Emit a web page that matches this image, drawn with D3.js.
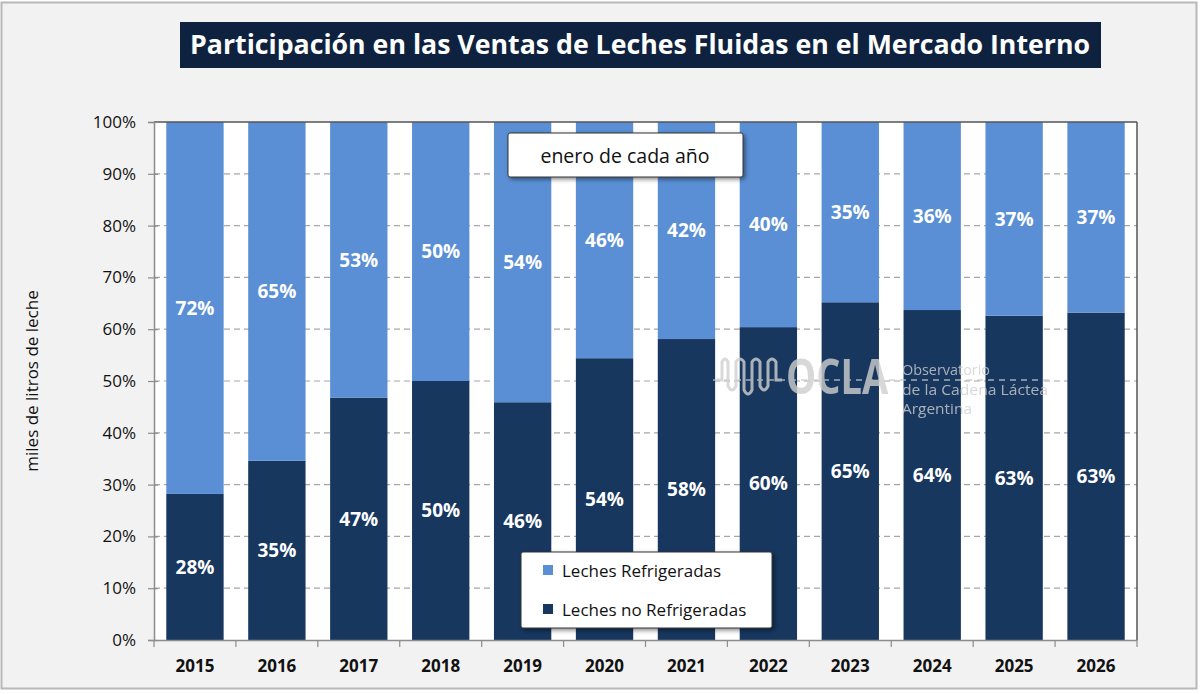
<!DOCTYPE html>
<html><head><meta charset="utf-8">
<script src="https://cdn.jsdelivr.net/npm/d3@7"></script>
<style>
html,body{margin:0;padding:0;background:#fff;}
svg{display:block;}
text{font-family:"Open Sans","Liberation Sans",Arial,sans-serif;}
</style></head>
<body>
<svg id="chart" width="1200" height="694"></svg>
<script>
const years = ["2015","2016","2017","2018","2019","2020","2021","2022","2023","2024","2025","2026"];
const noRefrigeradas = [28.2, 34.6, 46.8, 50.0, 45.9, 54.4, 58.1, 60.4, 65.2, 63.7, 62.6, 63.2];
const refrigeradas = [71.8, 65.4, 53.2, 50.0, 54.1, 45.6, 41.9, 39.6, 34.8, 36.3, 37.4, 36.8];
const yTicks = [0, 10, 20, 30, 40, 50, 60, 70, 80, 90, 100];
const seriesNames = ["Leches Refrigeradas", "Leches no Refrigeradas"];
const title = "Participación en las Ventas de Leches Fluidas en el Mercado Interno";
const yLabel = "miles de litros de leche";
const note = "enero de cada año";
const watermarkLines = ["Observatorio","de la Cadena Láctea","Argentina"];

const colLight = "#5a8fd5", colDark = "#17375f";
const svg = d3.select("#chart");

// Outer frame
svg.append("rect").attr("x",1.5).attr("y",2.5).attr("width",1195).attr("height",686)
  .attr("fill","#f2f2f2").attr("stroke","#b8b8b8").attr("stroke-width",2);

// Title
svg.append("rect").attr("x",180).attr("y",22).attr("width",921).attr("height",46).attr("fill","#0e2240");
svg.append("text").attr("x",640).attr("y",54).attr("text-anchor","middle")
  .attr("fill","#fff").attr("font-weight","bold").attr("font-size",26)
  .attr("textLength",900).attr("lengthAdjust","spacingAndGlyphs")
  .style("font-family","'Liberation Sans Narrow','Open Sans',sans-serif")
  .text(title);

const L = 154, R = 1137, T = 122, B = 640;
const x = d3.scaleBand().domain(years).range([L, R]).paddingInner(0.3).paddingOuter(0.15);
const y = d3.scaleLinear().domain([0, 100]).range([B, T]);

// Plot background
svg.append("rect").attr("x",L).attr("y",T).attr("width",R-L).attr("height",B-T).attr("fill","#fff");

// Gridlines
svg.append("g").selectAll("line").data(yTicks.filter(d=>d>0 && d<100)).join("line")
  .attr("x1",L).attr("x2",R).attr("y1",d=>y(d)).attr("y2",d=>y(d))
  .attr("stroke","#a6a6a6").attr("stroke-width",1.2).attr("stroke-dasharray","6,4");

// Bars
const gb = svg.append("g");
years.forEach((yr,i)=>{
  gb.append("rect").attr("x",x(yr)).attr("width",x.bandwidth())
    .attr("y",y(noRefrigeradas[i])).attr("height",y(0)-y(noRefrigeradas[i])).attr("fill",colDark);
  gb.append("rect").attr("x",x(yr)).attr("width",x.bandwidth())
    .attr("y",y(noRefrigeradas[i]+refrigeradas[i])).attr("height",y(noRefrigeradas[i])-y(noRefrigeradas[i]+refrigeradas[i])).attr("fill",colLight);
  gb.append("text").attr("x",x(yr)+x.bandwidth()/2).attr("y",y(noRefrigeradas[i]/2)).attr("dy","0.36em")
    .attr("text-anchor","middle").attr("fill","#fff").attr("font-weight","bold").attr("font-size",19)
    .text(Math.round(noRefrigeradas[i])+"%");
  gb.append("text").attr("x",x(yr)+x.bandwidth()/2).attr("y",y(noRefrigeradas[i]+refrigeradas[i]/2)).attr("dy","0.36em")
    .attr("text-anchor","middle").attr("fill","#fff").attr("font-weight","bold").attr("font-size",19)
    .text(Math.round(refrigeradas[i])+"%");
});

// Watermark (OCLA)
const wm = svg.append("g").attr("opacity",0.8);
wm.append("line").attr("x1",713).attr("x2",1050).attr("y1",380).attr("y2",380)
  .attr("stroke","#c8c8c8").attr("stroke-width",1.5).attr("stroke-dasharray","6,5");
wm.append("path").attr("d","M716,380 L722,380 L722,362 Q725,356 728,362 L728,386 Q732,394 736,386 L736,362 Q740,356 744,362 L744,390 Q748,398 752,390 L752,362 Q756,356 760,362 L760,386 Q764,394 768,386 L768,362 Q772,356 776,362 L776,380 L782,380")
  .attr("fill","none").attr("stroke","#d0d0d0").attr("stroke-width",3);
wm.append("text").attr("transform","translate(786,394) scale(1,1.25)").attr("font-size",38).attr("font-weight","bold")
  .attr("fill","#cfcfcf").text("OCLA");
watermarkLines.forEach((t,i)=>{
  wm.append("text").attr("x",902).attr("y",375+i*19.5).attr("font-size",14).attr("fill","#cfcfcf")
    .attr("textLength",[88,146,70][i]).attr("lengthAdjust","spacingAndGlyphs").text(t);
});

// Plot border
svg.append("line").attr("x1",L).attr("x2",R).attr("y1",T).attr("y2",T).attr("stroke","#555").attr("stroke-width",1.5);
svg.append("line").attr("x1",R).attr("x2",R).attr("y1",T).attr("y2",B).attr("stroke","#555").attr("stroke-width",1.5);

// Y axis
const yAxis = svg.append("g").attr("transform",`translate(${L},0)`)
  .call(d3.axisLeft(y).tickValues(yTicks).tickFormat(d=>d+"%").tickSize(6).tickPadding(12));
yAxis.select(".domain").attr("stroke","#8c8c8c").attr("stroke-width",1.5);
yAxis.selectAll(".tick line").attr("stroke","#8c8c8c").attr("stroke-width",1.2).attr("x2",-6).attr("x1",4);
yAxis.selectAll("text").attr("font-size",17).attr("fill","#111").style("font-family","'Open Sans',sans-serif");

// X axis
const xAxis = svg.append("g").attr("transform",`translate(0,${B})`)
  .call(d3.axisBottom(x).tickSize(0).tickPadding(20));
xAxis.select(".domain").attr("stroke","#8c8c8c").attr("stroke-width",1.5);
xAxis.selectAll("text").attr("font-size",17).attr("font-weight","bold").attr("fill","#111")
  .style("font-family","'Open Sans',sans-serif");
const bounds = years.map(d=>x(d)-x.step()*x.paddingInner()/2).concat([R]);
bounds[0] = L;
svg.append("g").selectAll("line").data(bounds).join("line")
  .attr("x1",d=>d).attr("x2",d=>d).attr("y1",B).attr("y2",B+7).attr("stroke","#8c8c8c").attr("stroke-width",1.2);

// Y label
svg.append("text").attr("transform","translate(38,381) rotate(-90)").attr("text-anchor","middle")
  .attr("font-size",17).attr("fill","#111").text(yLabel);

// Note box
const shadow = svg.append("defs").append("filter").attr("id","sh").attr("x","-10%").attr("y","-20%").attr("width","130%").attr("height","150%");
shadow.append("feDropShadow").attr("dx",2).attr("dy",2).attr("stdDeviation",2).attr("flood-color","#000").attr("flood-opacity",0.45);
svg.append("rect").attr("x",508).attr("y",133).attr("width",235).attr("height",44).attr("rx",2)
  .attr("fill","#fff").attr("stroke","#333").attr("stroke-width",1).attr("filter","url(#sh)");
svg.append("text").attr("x",625).attr("y",156).attr("dy","0.35em").attr("text-anchor","middle")
  .attr("font-size",19.5).attr("fill","#111").text(note);

// Legend
svg.append("rect").attr("x",521).attr("y",552).attr("width",251).attr("height",76).attr("rx",2)
  .attr("fill","#fff").attr("stroke","#333").attr("stroke-width",1).attr("filter","url(#sh)");
[colLight, colDark].forEach((c,i)=>{
  svg.append("rect").attr("x",543).attr("y",565+i*39).attr("width",10).attr("height",10).attr("fill",c);
  svg.append("text").attr("x",562).attr("y",571+i*39).attr("dy","0.35em").attr("font-size",17)
    .attr("fill","#111").text(seriesNames[i]);
});
</script>
</body></html>
